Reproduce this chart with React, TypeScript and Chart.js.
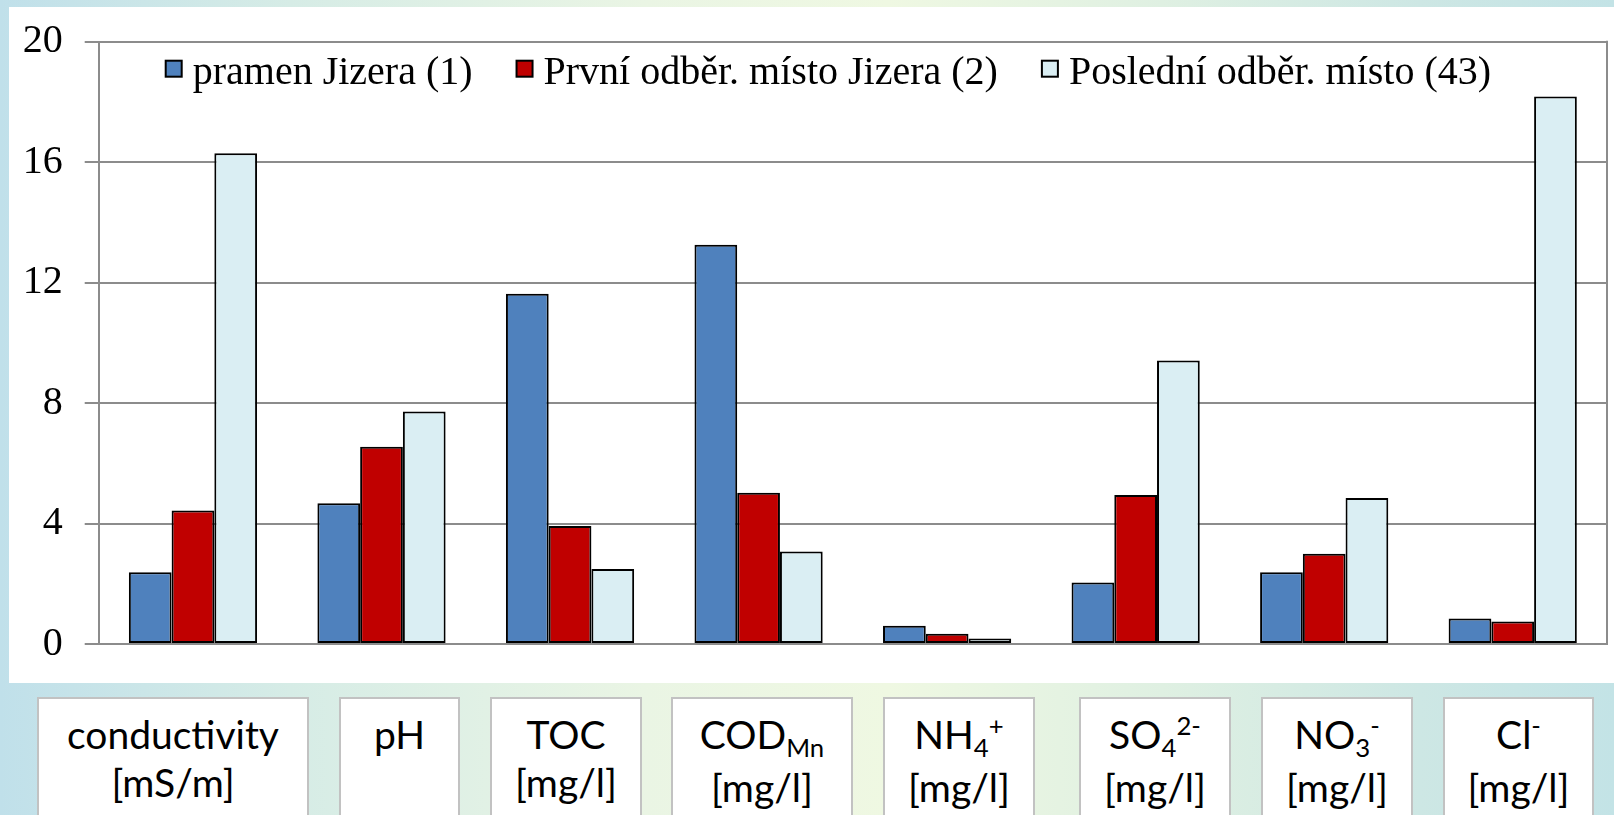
import React, { useEffect, useRef } from "react";
import { Chart, registerables } from "chart.js";

Chart.register(...registerables);

// ---- data ----
const categories = [
  "conductivity|[mS/m]",
  "pH|",
  "TOC|[mg/l]",
  "COD_{Mn}|[mg/l]",
  "NH_{4}^{+}|[mg/l]",
  "SO_{4}^{2-}|[mg/l]",
  "NO_{3}^{-}|[mg/l]",
  "Cl^{-}|[mg/l]",
];
const seriesNames = [
  "pramen Jizera (1)",
  "První odběr. místo Jizera (2)",
  "Poslední odběr. místo (43)",
];
const pramenJizera = [2.38, 4.67, 11.63, 13.26, 0.61, 2.04, 2.38, 0.85];
const prvniOdber = [4.43, 6.55, 3.92, 5.02, 0.34, 4.95, 3.0, 0.75];
const posledniOdber = [16.3, 7.72, 2.49, 3.07, 0.18, 9.41, 4.85, 18.18];
const yTicks = [0, 4, 8, 12, 16, 20];

// ---- styles / layout ----
const seriesColors = ["#4F81BD", "#C00000", "#DAEEF3"];
const gridColor = "#8c8c8c";
const labelBoxLeft = [37, 339, 490, 671, 883, 1079, 1261, 1443];
const labelBoxRight = [309, 460, 642, 853, 1035, 1231, 1413, 1594];

const plainLabel = (s: string) => s.split("|")[0].replace(/[_^]\{([^}]*)\}/g, "$1");

function renderRich(s: string) {
  const parts = s.split(/(_\{[^}]*\}|\^\{[^}]*\})/).filter((p) => p !== "");
  return parts.map((p, i) => {
    if (p.startsWith("_{")) {
      return (
        <span key={i} style={{ fontSize: "0.66em", position: "relative", top: "0.32em" }}>
          {p.slice(2, -1)}
        </span>
      );
    }
    if (p.startsWith("^{")) {
      return (
        <span key={i} style={{ fontSize: "0.66em", position: "relative", top: "-0.55em" }}>
          {p.slice(2, -1)}
        </span>
      );
    }
    return <span key={i}>{p}</span>;
  });
}

const insideLegend = {
  id: "insideLegend",
  afterDraw(chart: any) {
    const { ctx, chartArea } = chart;
    ctx.save();
    ctx.font = '40px "Liberation Serif"';
    let x = chartArea.left + 67;
    const boxTop = chartArea.top + 19;
    const textY = chartArea.top + 42;
    chart.data.datasets.forEach((ds: any) => {
      ctx.fillStyle = ds.backgroundColor;
      ctx.fillRect(x, boxTop, 16, 16);
      ctx.strokeStyle = "#000";
      ctx.lineWidth = 2;
      ctx.strokeRect(x, boxTop, 16, 16);
      ctx.fillStyle = "#000";
      ctx.textBaseline = "alphabetic";
      ctx.textAlign = "left";
      ctx.fillText(ds.label, x + 27, textY);
      x += 27 + ctx.measureText(ds.label).width + 44;
    });
    ctx.restore();
  },
};

const rightBorder = {
  id: "rightBorder",
  beforeDatasetsDraw(chart: any) {
    const { ctx, chartArea } = chart;
    ctx.save();
    ctx.strokeStyle = gridColor;
    ctx.lineWidth = 2;
    ctx.beginPath();
    ctx.moveTo(chartArea.right, chartArea.top - 1);
    ctx.lineTo(chartArea.right, chartArea.bottom + 1);
    ctx.stroke();
    ctx.restore();
  },
};

export default function App() {
  const canvasRef = useRef<HTMLCanvasElement | null>(null);

  useEffect(() => {
    document.body.style.margin = "0";
    const canvas = canvasRef.current;
    if (!canvas) return;
    const seriesData = [pramenJizera, prvniOdber, posledniOdber];
    const chart = new Chart(canvas, {
      type: "bar",
      data: {
        labels: categories.map(plainLabel),
        datasets: seriesNames.map((name, i) => ({
          label: name,
          data: seriesData[i],
          backgroundColor: seriesColors[i],
          borderColor: "#000",
          borderWidth: 2,
          borderSkipped: false,
          categoryPercentage: 0.68,
          barPercentage: 1,
        })),
      },
      options: {
        responsive: false,
        animation: false,
        devicePixelRatio: 1,
        layout: { padding: { top: 34.7, right: 7, bottom: 39, left: 0 } },
        plugins: {
          legend: { display: false },
          tooltip: { enabled: false },
        },
        scales: {
          x: {
            grid: { display: true, drawOnChartArea: false, drawTicks: false },
            ticks: { display: false },
            border: { display: true, color: gridColor, width: 2 },
          },
          y: {
            min: 0,
            max: 20,
            afterBuildTicks: (scale: any) => {
              scale.ticks = yTicks.map((v) => ({ value: v }));
            },
            afterFit: (scale: any) => {
              scale.width = 89.7;
            },
            grid: { color: gridColor, lineWidth: 2, tickLength: 14 },
            border: { display: true, color: gridColor, width: 2 },
            ticks: {
              font: { family: '"Liberation Serif"', size: 40, lineHeight: 0.5 },
              color: "#000",
              padding: 22,
            },
          },
        },
      } as any,
      plugins: [insideLegend, rightBorder],
    });
    return () => chart.destroy();
  }, []);

  return (
    <div
      style={{
        position: "absolute",
        left: 0,
        top: 0,
        width: 1614,
        height: 815,
        overflow: "hidden",
        background:
          "linear-gradient(90deg, #c0e0ea 0%, #d6ece6 18%, #eaf5e4 40%, #eff8e2 55%, #dff0e2 72%, #cde7e4 88%, #c3e3e6 100%)",
      }}
    >
      <div
        style={{
          position: "absolute",
          left: 9,
          top: 7,
          width: 1605,
          height: 676,
          background: "#ffffff",
        }}
      >
        <canvas ref={canvasRef} width={1605} height={676} style={{ width: 1605, height: 676, display: "block" }} />
      </div>
      {categories.map((c, i) => {
        const [line1, line2] = c.split("|");
        return (
          <div
            key={i}
            style={{
              position: "absolute",
              left: labelBoxLeft[i],
              top: 697,
              width: labelBoxRight[i] - labelBoxLeft[i] - 4,
              height: 140,
              background: "#ffffff",
              border: "2px solid #c2c2c2",
              boxSizing: "content-box",
              fontFamily: "Lato, 'Open Sans', sans-serif",
              fontSize: 39,
              lineHeight: "48px",
              color: "#000",
              textAlign: "center",
              paddingTop: 11,
              whiteSpace: "nowrap",
            }}
          >
            <div>{renderRich(line1)}</div>
            <div>{line2 ? renderRich(line2) : "\u00a0"}</div>
          </div>
        );
      })}
    </div>
  );
}
